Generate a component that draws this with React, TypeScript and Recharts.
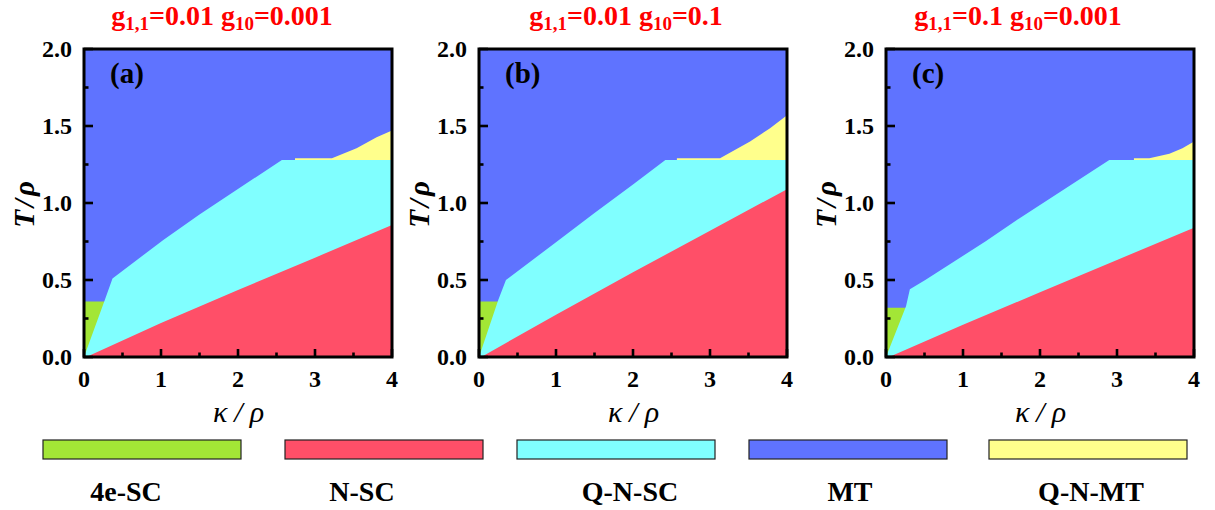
import React from "react";
import { ComposedChart, Area, XAxis, YAxis, ReferenceArea } from "recharts";

// Phase colours
const C_4E = "#A3E636";
const C_NSC = "#FF4F68";
const C_QNSC = "#80FFFF";
const C_MT = "#5F73FF";
const C_QNMT = "#FFFF8C";

type Pt = [number, number];

// Upper boundaries T/ρ of each phase region vs κ/ρ, panel (a)
const mtA: Pt[] = [[0, 2], [4, 2]];
const qnmtA: Pt[] = [[2.74, 1.29], [3.22, 1.29], [3.54, 1.355], [3.8, 1.427], [4, 1.47]];
const e4A: Pt[] = [[0, 0.36], [0.27, 0.36]];
const qnscA: Pt[] = [[0, 0], [0.27, 0.37], [0.37, 0.51], [1.03, 0.76], [1.5, 0.925], [2.57, 1.28], [4, 1.28]];
const nscA: Pt[] = [[0.03, 0], [1, 0.22], [2, 0.435], [3, 0.645], [4, 0.857]];

// panel (b)
const mtB: Pt[] = [[0, 2], [4, 2]];
const qnmtB: Pt[] = [[2.57, 1.29], [3.13, 1.29], [3.52, 1.4], [3.78, 1.485], [4, 1.57]];
const e4B: Pt[] = [[0, 0.36], [0.25, 0.36]];
const qnscB: Pt[] = [[0, 0], [0.25, 0.37], [0.35, 0.5], [1.0, 0.745], [1.5, 0.935], [2.0, 1.12], [2.42, 1.28], [4, 1.28]];
const nscB: Pt[] = [[0.03, 0], [1, 0.275], [2, 0.55], [3, 0.82], [4, 1.09]];

// panel (c)
const mtC: Pt[] = [[0, 2], [4, 2]];
const qnmtC: Pt[] = [[3.22, 1.29], [3.42, 1.29], [3.68, 1.32], [3.85, 1.355], [4, 1.4]];
const e4C: Pt[] = [[0, 0.32], [0.26, 0.32]];
const qnscC: Pt[] = [[0, 0], [0.26, 0.33], [0.31, 0.44], [0.51, 0.5], [1.29, 0.75], [1.73, 0.9], [2.9, 1.28], [4, 1.28]];
const nscC: Pt[] = [[0.04, 0], [1, 0.21], [2, 0.42], [3, 0.63], [4, 0.84]];

// Axis ticks
const xTicks = [0, 0.5, 1, 1.5, 2, 2.5, 3, 3.5, 4];
const xTickLabels = ["0", "", "1", "", "2", "", "3", "", "4"];
const yTicks = [0, 0.25, 0.5, 0.75, 1, 1.25, 1.5, 1.75, 2];
const yTickLabels = ["0.0", "", "0.5", "", "1.0", "", "1.5", "", "2.0"];

// Panel parameters
const panelTags = ["(a)", "(b)", "(c)"];
const g11Values = ["0.01", "0.01", "0.1"];
const g10Values = ["0.001", "0.1", "0.001"];

// Legend
const legendNames = ["4e-SC", "N-SC", "Q-N-SC", "MT", "Q-N-MT"];
const legendColors = [C_4E, C_NSC, C_QNSC, C_MT, C_QNMT];

const FONT = "Liberation Serif";

const toRows = (pts: Pt[]) => pts.map(([k, t]) => ({ k, t }));

const panels = [
  { mt: mtA, qnmt: qnmtA, e4: e4A, qnsc: qnscA, nsc: nscA },
  { mt: mtB, qnmt: qnmtB, e4: e4B, qnsc: qnscB, nsc: nscB },
  { mt: mtC, qnmt: qnmtC, e4: e4C, qnsc: qnscC, nsc: nscC },
];

// Layout
const PLOT_LEFTS = [84, 479, 886];
const PLOT_TOP = 49;
const PLOT = 308;
const M_LEFT = 30;
const Y_W = 50;
const CH_W = M_LEFT + Y_W + PLOT + 20;
const CH_H = 430;
const X_H = 30;
const TITLE_CX = [222, 626, 1018];
const LEGEND_BOX_X = [43, 285, 517, 749, 989];
const LEGEND_BOX_W = 198;
const LEGEND_LABEL_CX = [126, 362, 630, 850, 1091];

const XTick = (props: any) => {
  const { x, y, payload } = props;
  const major = Number.isInteger(payload.value);
  const label = xTickLabels[xTicks.indexOf(payload.value)] ?? "";
  return (
    <g>
      <line x1={x} y1={y} x2={x} y2={y - (major ? 8 : 4.5)} stroke="#000" strokeWidth={2.6} />
      {label && (
        <text x={x} y={y + 30} textAnchor="middle" style={{ fontFamily: FONT, fontWeight: 700, fontSize: 24 }} fill="#000">
          {label}
        </text>
      )}
    </g>
  );
};

const YTick = (props: any) => {
  const { x, y, payload } = props;
  const major = Math.abs(payload.value * 2 - Math.round(payload.value * 2)) < 1e-9;
  const label = yTickLabels[yTicks.indexOf(payload.value)] ?? "";
  return (
    <g>
      <line x1={x} y1={y} x2={x + (major ? 9 : 4.5)} y2={y} stroke="#000" strokeWidth={2.6} />
      {label && (
        <text x={x - 12} y={y + 8} textAnchor="end" style={{ fontFamily: FONT, fontWeight: 700, fontSize: 24 }} fill="#000">
          {label}
        </text>
      )}
    </g>
  );
};

const region = (pts: Pt[], color: string, name: string) => (
  <Area
    key={name}
    name={name}
    data={toRows(pts)}
    dataKey="t"
    type="linear"
    stroke="none"
    fill={color}
    fillOpacity={1}
    baseValue={0}
    dot={false}
    activeDot={false}
    isAnimationActive={false}
  />
);

const Panel = ({ i }: { i: number }) => {
  const p = panels[i];
  return (
    <div style={{ position: "absolute", left: PLOT_LEFTS[i] - M_LEFT - Y_W, top: 0 }}>
      <ComposedChart
        width={CH_W}
        height={CH_H}
        margin={{ top: PLOT_TOP, right: CH_W - M_LEFT - Y_W - PLOT, left: M_LEFT, bottom: CH_H - PLOT_TOP - PLOT - X_H }}
      >
        <XAxis
          type="number"
          dataKey="k"
          domain={[0, 4]}
          ticks={xTicks}
          interval={0}
          allowDataOverflow
          height={X_H}
          tickSize={0}
          tickMargin={0}
          tickLine={false}
          axisLine={false}
          tick={<XTick />}
        />
        <YAxis
          type="number"
          domain={[0, 2]}
          ticks={yTicks}
          interval={0}
          allowDataOverflow
          width={Y_W}
          tickSize={0}
          tickMargin={0}
          tickLine={false}
          axisLine={false}
          tick={<YTick />}
        />
        {region(p.mt, C_MT, "MT")}
        {region(p.qnmt, C_QNMT, "Q-N-MT")}
        {region(p.e4, C_4E, "4e-SC")}
        {region(p.qnsc, C_QNSC, "Q-N-SC")}
        {region(p.nsc, C_NSC, "N-SC")}
        <ReferenceArea x1={0} x2={4} y1={0} y2={2} fill="none" stroke="#000" strokeWidth={3} ifOverflow="visible" />
      </ComposedChart>
    </div>
  );
};

const bold = { fontFamily: FONT, fontWeight: 700 } as const;

export default function App() {
  return (
    <div style={{ position: "absolute", left: 0, top: 0, width: 1215, height: 510, background: "#fff", overflow: "hidden" }}>
      {[0, 1, 2].map((i) => (
        <Panel key={i} i={i} />
      ))}
      <svg width={1215} height={510} style={{ position: "absolute", left: 0, top: 0, pointerEvents: "none" }}>
        {[0, 1, 2].map((i) => (
          <g key={i}>
            <text x={TITLE_CX[i]} y={25} textAnchor="middle" fill="#FF0000" style={{ ...bold, fontSize: 28 }}>
              g<tspan style={{ fontSize: 19 }} dy={5}>1,1</tspan>
              <tspan dy={-5}>={g11Values[i]} g</tspan>
              <tspan style={{ fontSize: 19 }} dy={5}>10</tspan>
              <tspan dy={-5}>={g10Values[i]}</tspan>
            </text>
            <text x={PLOT_LEFTS[i] + 26} y={83} fill="#000" style={{ ...bold, fontSize: 29 }}>
              {panelTags[i]}
            </text>
            <text
              x={PLOT_LEFTS[i] + PLOT / 2 + 4}
              y={422}
              textAnchor="middle"
              fill="#000"
              style={{ fontFamily: FONT, fontStyle: "italic", fontSize: 30, letterSpacing: 7 }}
            >
              κ/ρ
            </text>
            <text
              transform={`translate(${PLOT_LEFTS[i] - 50}, ${PLOT_TOP + PLOT / 2}) rotate(-90)`}
              textAnchor="middle"
              fill="#000"
              style={{ ...bold, fontStyle: "italic", fontSize: 29, letterSpacing: 3 }}
            >
              T/ρ
            </text>
          </g>
        ))}
        {legendNames.map((n, j) => (
          <g key={n}>
            <rect x={LEGEND_BOX_X[j]} y={440} width={LEGEND_BOX_W} height={19} fill={legendColors[j]} stroke="#222" strokeWidth={1.2} />
            <text x={LEGEND_LABEL_CX[j]} y={501} textAnchor="middle" fill="#000" style={{ ...bold, fontSize: 28 }}>
              {n}
            </text>
          </g>
        ))}
      </svg>
    </div>
  );
}
